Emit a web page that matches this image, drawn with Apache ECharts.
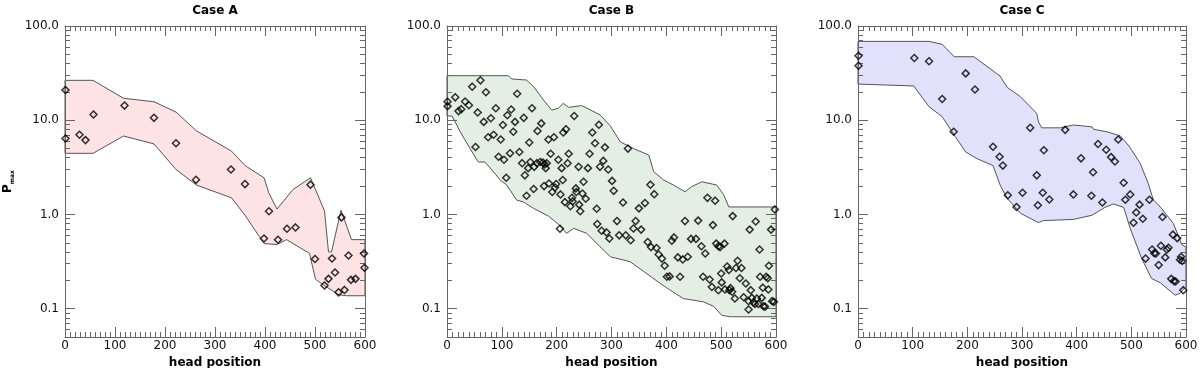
<!DOCTYPE html>
<html><head><meta charset="utf-8">
<script src="https://cdn.jsdelivr.net/npm/echarts@6/dist/echarts.min.js"></script>
<style>html,body{margin:0;padding:0;background:#fff}#c{width:1200px;height:368px}</style>
</head><body><div id="c"></div>
<script>
const panelTitles = ['Case A', 'Case B', 'Case C'];
const xAxisTitle = 'head position';
const yTickValues = [0.1, 1, 10, 100];
const yMinorValues = [0.06,0.07,0.08,0.09,0.2,0.3,0.4,0.5,0.6,0.7,0.8,0.9,2,3,4,5,6,7,8,9,20,30,40,50,60,70,80,90];

const caseA_upper = [[0,26.5],[56,26.5],[117,17.1],[178,15.7],[222,12.2],[263,7.7],[333,4.7],[360,3.3],[398,2.45],[408,1.67],[424,1.14],[456,1.84],[491,2.45],[519,1.09],[527,0.40],[533,0.40],[552,1.11],[573,0.54],[600,0.54]];
const caseA_lower = [[0,4.45],[56,4.45],[117,6.8],[178,5.6],[222,3.0],[263,2.05],[333,1.5],[360,0.98],[398,0.49],[424,0.48],[443,0.54],[489,0.386],[501,0.205],[517,0.178],[548,0.14],[563,0.137],[600,0.137]];
const caseA_points = [[1,20.9],[1,6.4],[29,7.0],[41,6.15],[57,11.5],[119,14.3],[178,10.6],[222,5.7],[262,2.33],[332,3.0],[360,2.1],[408,1.08],[398,0.556],[426,0.538],[444,0.705],[461,0.728],[491,2.07],[500,0.336],[519,0.176],[527,0.207],[534,0.341],[540,0.242],[547,0.149],[553,0.93],[559,0.158],[567,0.367],[572,0.202],[581,0.207],[598,0.385],[599,0.272]];

const caseB_upper = [[0,29.7],[112,29.7],[118,27.4],[145,26.7],[158,22.7],[176,16.4],[191,12.8],[203,13.4],[212,15.1],[222,13.7],[246,14.3],[279,11.4],[298,8.7],[316,5.9],[340,5.0],[368,4.27],[377,2.84],[395,2.32],[413,2.05],[434,1.74],[446,1.97],[465,2.22],[492,2.05],[505,1.6],[514,1.2],[600,1.2]];
const caseB_lower = [[0,11.1],[9,11.1],[15,9.6],[24,7.55],[42,5.0],[57,3.6],[69,3.6],[82,2.96],[97,2.32],[109,2.05],[127,1.42],[139,1.36],[158,1.16],[185,0.96],[203,0.79],[218,0.63],[231,0.71],[255,0.63],[279,0.454],[298,0.355],[334,0.315],[364,0.236],[389,0.185],[407,0.157],[431,0.128],[468,0.118],[486,0.106],[501,0.085],[517,0.082],[600,0.082]];
const caseB_points = [[1,15.7],[1,14.1],[15,17.5],[21,12.5],[26,13.1],[33,15.8],[40,14.4],[46,22.7],[52,5.2],[56,12.1],[61,26.5],[67,9.6],[71,19.8],[75,6.6],[80,10.5],[85,7.0],[89,13.4],[94,4.1],[98,6.25],[102,8.9],[104,3.8],[108,2.45],[110,11.3],[115,4.45],[117,13.0],[121,7.55],[124,9.6],[128,19.1],[132,4.6],[137,3.5],[140,10.6],[142,2.6],[145,1.58],[148,3.1],[150,5.8],[152,3.6],[155,13.4],[158,1.86],[159,3.2],[164,3.5],[165,7.7],[170,3.6],[172,9.25],[175,3.55],[177,2.0],[178,3.4],[180,3.1],[182,3.5],[185,6.25],[186,2.13],[189,4.4],[192,1.73],[195,6.6],[197,1.93],[199,2.1],[203,3.8],[206,0.705],[207,1.63],[209,3.1],[211,2.32],[212,7.4],[215,1.35],[217,8.0],[220,3.5],[222,4.4],[225,1.22],[228,1.5],[229,1.38],[232,11.1],[235,1.89],[236,1.73],[240,3.2],[241,1.27],[243,1.08],[247,1.67],[249,2.22],[253,1.47],[257,3.1],[260,4.4],[265,7.4],[270,5.7],[273,1.15],[274,0.79],[277,8.95],[279,3.2],[282,0.67],[285,3.7],[288,5.15],[291,0.644],[294,3.0],[296,0.556],[301,2.27],[304,1.78],[310,0.85],[314,0.60],[321,1.34],[326,0.60],[330,5.0],[335,0.533],[340,0.71],[344,0.85],[350,1.16],[354,0.69],[361,1.32],[366,0.51],[371,2.07],[372,0.45],[378,1.64],[382,0.44],[386,0.376],[392,0.34],[397,0.285],[401,0.218],[406,0.22],[410,0.525],[414,0.57],[421,0.35],[425,0.218],[430,0.333],[434,0.85],[439,0.355],[445,0.55],[454,0.55],[458,0.86],[464,0.46],[467,0.218],[471,0.385],[475,1.5],[479,0.204],[483,0.17],[485,0.77],[489,1.4],[491,0.49],[495,0.46],[495,0.157],[498,0.45],[500,0.236],[501,0.19],[506,0.49],[507,0.16],[511,0.28],[514,0.257],[515,0.157],[517,0.165],[520,0.151],[521,0.96],[525,0.128],[527,0.27],[530,0.322],[534,0.21],[537,0.27],[541,0.132],[545,0.185],[550,0.12],[550,0.098],[552,0.69],[554,0.157],[556,0.13],[559,0.116],[562,0.112],[563,0.84],[565,0.128],[568,0.112],[570,0.425],[571,0.218],[574,0.13],[576,0.167],[577,0.106],[580,0.105],[582,0.218],[585,0.21],[586,0.16],[587,0.285],[591,0.69],[593,0.12],[596,0.118],[598,1.13]];

const caseC_upper = [[0,68.7],[130,68.7],[154,63.9],[176,47.2],[212,47.2],[260,29.4],[273,22.3],[297,17.8],[327,11.8],[330,9.6],[336,8.3],[370,8.3],[394,8.9],[428,8.5],[431,8.0],[455,7.55],[480,6.8],[497,5.2],[516,3.5],[531,2.13],[540,1.44],[555,1.16],[577,0.80],[592,0.48],[600,0.45]];
const caseC_lower = [[0,24.2],[102,23.1],[130,13.9],[154,10.9],[178,6.7],[197,4.6],[218,3.9],[247,3.3],[260,2.05],[273,1.48],[297,1.03],[330,0.82],[339,0.86],[394,0.885],[428,0.98],[452,1.19],[467,1.29],[486,1.19],[498,0.71],[519,0.34],[537,0.209],[553,0.188],[580,0.139],[589,0.145],[600,0.173]];
const caseC_points = [[1,48.4],[1,37.9],[103,45.7],[130,42.2],[154,16.8],[175,7.55],[197,31.4],[214,21.2],[247,5.23],[259,4.1],[265,3.3],[274,1.6],[290,1.2],[301,1.70],[315,8.3],[327,2.6],[329,1.25],[338,1.70],[340,4.8],[350,1.44],[379,7.9],[394,1.63],[408,3.94],[427,1.58],[430,2.8],[439,5.6],[447,1.34],[454,4.86],[463,4.06],[470,3.65],[476,6.25],[486,2.17],[489,1.43],[498,1.63],[504,0.816],[509,1.05],[515,1.27],[521,0.90],[526,0.34],[533,1.43],[538,0.425],[542,0.388],[545,0.385],[550,0.29],[554,0.465],[557,0.94],[562,0.35],[565,0.425],[568,0.443],[573,0.207],[576,0.61],[578,0.196],[581,0.194],[584,0.56],[589,0.33],[591,0.355],[593,0.32],[595,0.157]];

const bands = [[caseA_upper, caseA_lower], [caseB_upper, caseB_lower], [caseC_upper, caseC_lower]];
const scatters = [caseA_points, caseB_points, caseC_points];
const fills = ['#fde3e3', '#e3efe3', '#e1e1fb'];

const FONT = 'DejaVu Sans';
const AX = '#666';
const grids = [
  {left: 65, top: 26, width: 300, height: 311, outerBoundsMode: 'none', containLabel: false},
  {left: 447, top: 26, width: 329, height: 311, outerBoundsMode: 'none', containLabel: false},
  {left: 858, top: 26, width: 328, height: 311, outerBoundsMode: 'none', containLabel: false}
];

const xAxes = [], yAxes = [], series = [];
grids.forEach((g, i) => {
  const xBase = {
    type: 'value', gridIndex: i, min: 0, max: 600, interval: 100, z: 3,
    axisLine: {show: true, lineStyle: {color: AX, width: 1}},
    axisTick: {show: true, inside: true, length: 10, lineStyle: {color: AX}},
    minorTick: {show: true, splitNumber: 10, length: 5, lineStyle: {color: AX}},
    splitLine: {show: false}, minorSplitLine: {show: false}
  };
  xAxes.push(Object.assign({}, xBase, {
    position: 'bottom', name: xAxisTitle, nameLocation: 'middle', nameGap: 14,
    nameTextStyle: {fontFamily: FONT, fontWeight: 'bold', fontSize: 12, color: '#000'},
    axisLabel: {show: true, margin: 3, fontFamily: FONT, fontSize: 12, color: '#111'}
  }));
  xAxes.push(Object.assign({}, xBase, {
    position: 'top', name: panelTitles[i], nameLocation: 'middle', nameGap: 9,
    nameTextStyle: {fontFamily: FONT, fontWeight: 'bold', fontSize: 12, color: '#000'},
    axisLabel: {show: false}
  }));
  const yBase = {
    type: 'log', logBase: 10, gridIndex: i, min: 0.05, max: 100, z: 3,
    splitLine: {show: false}
  };
  const leftMajor = Object.assign({}, yBase, {
    position: 'left',
    axisLine: {show: true, lineStyle: {color: AX, width: 1}},
    axisTick: {show: true, inside: true, length: 10, customValues: yTickValues, lineStyle: {color: AX}},
    axisLabel: {show: true, customValues: yTickValues, margin: 6, fontFamily: FONT, fontSize: 12, color: '#111',
      formatter: v => Number(v).toFixed(1)}
  });
  if (i === 0) {
    Object.assign(leftMajor, {
      name: '{p|P}{s|max}', nameLocation: 'middle', nameGap: 50, nameRotate: 90,
      nameTextStyle: {rich: {
        p: {fontFamily: FONT, fontWeight: 'bold', fontSize: 12, color: '#000', lineHeight: 14},
        s: {fontFamily: FONT, fontWeight: 'bold', fontSize: 6, color: '#000', lineHeight: 6, verticalAlign: 'bottom'}
      }}
    });
  }
  yAxes.push(leftMajor);
  yAxes.push(Object.assign({}, yBase, {
    position: 'left', axisLine: {show: false},
    axisTick: {show: true, inside: true, length: 5, customValues: yMinorValues, lineStyle: {color: AX}},
    axisLabel: {show: false}
  }));
  yAxes.push(Object.assign({}, yBase, {
    position: 'right',
    axisLine: {show: true, lineStyle: {color: AX, width: 1}},
    axisTick: {show: true, inside: true, length: 10, customValues: yTickValues, lineStyle: {color: AX}},
    axisLabel: {show: false}
  }));
  yAxes.push(Object.assign({}, yBase, {
    position: 'right', axisLine: {show: false},
    axisTick: {show: true, inside: true, length: 5, customValues: yMinorValues, lineStyle: {color: AX}},
    axisLabel: {show: false}
  }));

  const upper = bands[i][0], lower = bands[i][1], fill = fills[i];
  series.push({
    type: 'custom', xAxisIndex: 2 * i, yAxisIndex: 4 * i, z: 1, silent: true,
    data: [[0, 1]],
    renderItem: (params, api) => {
      const pts = upper.map(p => api.coord(p)).concat(lower.slice().reverse().map(p => api.coord(p)));
      return {type: 'polygon', shape: {points: pts}, style: {fill: fill, stroke: '#555', lineWidth: 1}};
    }
  });
  series.push({
    type: 'scatter', xAxisIndex: 2 * i, yAxisIndex: 4 * i, z: 5,
    data: scatters[i], symbol: 'diamond', symbolSize: 7,
    itemStyle: {color: 'rgba(0,0,0,0)', borderColor: '#000', borderWidth: 1.5}
  });
});

const chart = echarts.init(document.getElementById('c'), null, {renderer: 'canvas'});
chart.setOption({
  animation: false,
  backgroundColor: '#fff',
  grid: grids,
  xAxis: xAxes,
  yAxis: yAxes,
  series: series
});
</script></body></html>
